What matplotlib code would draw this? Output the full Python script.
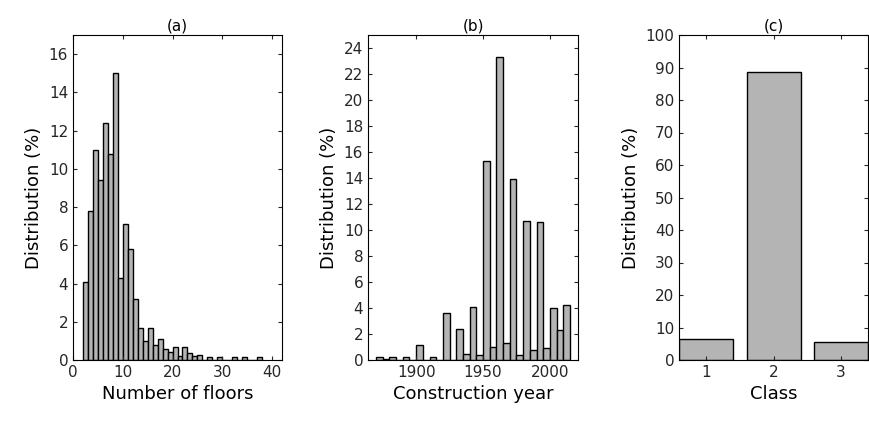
import numpy as np
import matplotlib.pyplot as plt

# (a) number of floors, bins of width 1 starting at 2
floor_bins = list(range(2, 38))
floor_pct = [4.1, 7.8, 11.0, 9.4, 12.4, 10.8, 15.0, 4.3, 7.1, 5.8, 3.2, 1.7,
             1.0, 1.7, 0.8, 1.1, 0.6, 0.4, 0.7, 0.2, 0.7, 0.35, 0.2, 0.25,
             0.0, 0.15, 0.0, 0.15, 0.0, 0.0, 0.15, 0.0, 0.15, 0.0, 0.0, 0.15]

# (b) construction year, 5-year bins
year_bins = list(range(1870, 2015, 5))
year_pct = [0.2, 0.1, 0.2, 0.0, 0.2, 0.0, 1.15, 0.0, 0.2, 0.0, 3.6, 0.0,
            2.4, 0.5, 4.1, 0.4, 15.3, 1.0, 23.3, 1.3, 13.9, 0.4, 10.7, 0.8,
            10.6, 0.9, 4.0, 2.3, 4.25]

# (c) class
classes = [1, 2, 3]
class_pct = [6.5, 88.5, 5.5]

gray = '#b4b4b4'
W, H = 869, 422
fig = plt.figure(figsize=(W / 100, H / 100), dpi=100)

def add_ax(l, r, t=35, b=360):
    return fig.add_axes([l / W, 1 - b / H, (r - l) / W, (b - t) / H])

def style(ax):
    ax.tick_params(direction='in', top=True, right=True, labelsize=11, colors='#262626', length=3)
    for s in ax.spines.values():
        s.set_linewidth(0.8)

ax1 = add_ax(73, 282)
ax1.bar([b for b in floor_bins if True], floor_pct, width=1, align='edge',
        color=gray, edgecolor='black', linewidth=1)
ax1.set_xlim(0, 42)
ax1.set_ylim(0, 17)
ax1.set_xticks([0, 10, 20, 30, 40])
ax1.set_yticks(range(0, 17, 2))
ax1.set_xlabel('Number of floors', fontsize=13)
ax1.set_ylabel('Distribution (%)', fontsize=13)
ax1.set_title('(a)', fontsize=11, pad=3)
style(ax1)

ax2 = add_ax(368, 578)
ax2.bar(year_bins, year_pct, width=5, align='edge',
        color=gray, edgecolor='black', linewidth=1)
ax2.set_xlim(1864, 2021)
ax2.set_ylim(0, 25)
ax2.set_xticks([1900, 1950, 2000])
ax2.set_yticks(range(0, 25, 2))
ax2.set_xlabel('Construction year', fontsize=13)
ax2.set_ylabel('Distribution (%)', fontsize=13)
ax2.set_title('(b)', fontsize=11, pad=3)
style(ax2)

ax3 = add_ax(679, 868)
ax3.bar(classes, class_pct, width=0.8, color=gray, edgecolor='black', linewidth=1)
ax3.set_xlim(0.6, 3.4)
ax3.set_ylim(0, 100)
ax3.set_xticks(classes)
ax3.set_yticks(range(0, 101, 10))
ax3.set_xlabel('Class', fontsize=13)
ax3.set_ylabel('Distribution (%)', fontsize=13)
ax3.set_title('(c)', fontsize=11, pad=3)
style(ax3)

fig.savefig('out.png', dpi=100)
